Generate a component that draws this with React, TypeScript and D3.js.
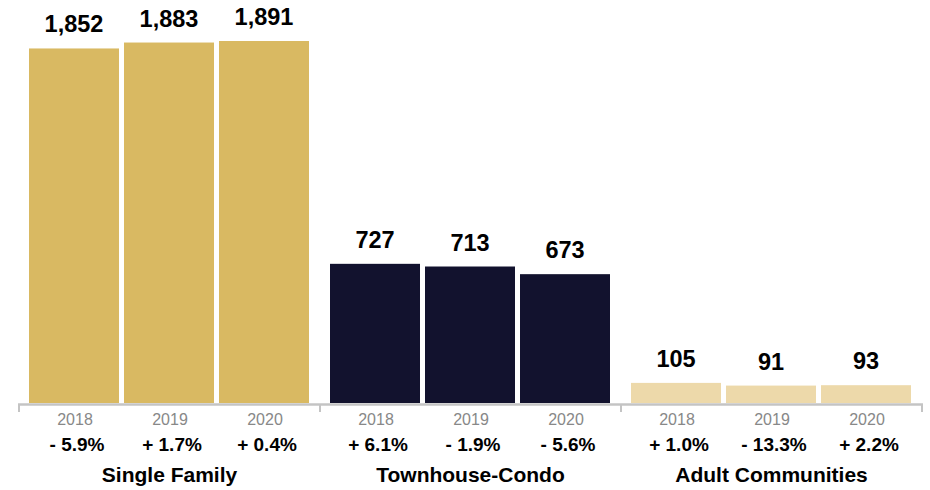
import React from "react";
import * as d3 from "d3";

const groups = ["Single Family", "Townhouse-Condo", "Adult Communities"];
const years = ["2018", "2019", "2020"];
const singleFamily = [1852, 1883, 1891];
const townhouseCondo = [727, 713, 673];
const adultCommunities = [105, 91, 93];
const singleFamilyChange = ["- 5.9%", "+ 1.7%", "+ 0.4%"];
const townhouseCondoChange = ["+ 6.1%", "- 1.9%", "- 5.6%"];
const adultCommunitiesChange = ["+ 1.0%", "- 13.3%", "+ 2.2%"];
const groupColors = ["#D9B962", "#12122E", "#EDD9AA"];

const W = 930;
const H = 490;
const baseline = 403;
const FONT = "'Liberation Sans', Arial, Helvetica, sans-serif";

export default function App() {
  const values = [singleFamily, townhouseCondo, adultCommunities];
  const changes = [singleFamilyChange, townhouseCondoChange, adultCommunitiesChange];
  const x0 = d3.scaleBand<string>().domain(groups).range([19, 922]).padding(0);
  const x1 = d3.scaleBand<string>().domain(years).range([10, 290]).paddingInner(5 / 95).paddingOuter(0);
  const y = d3.scaleLinear().domain([0, 1891]).range([baseline, 41]);
  const fmt = d3.format(",");
  const tickXs = [...groups.map((g) => x0(g)!), 922];

  return (
    <svg width={W} height={H} style={{ position: "absolute", left: 0, top: 0, fontFamily: FONT }}>
      {groups.map((g, gi) => (
        <g key={g} transform={`translate(${x0(g)},0)`}>
          {years.map((yr, i) => {
            const v = values[gi][i];
            const bx = x1(yr)!;
            const cx = bx + x1.bandwidth() / 2;
            return (
              <g key={yr}>
                <rect x={bx} y={y(v)} width={x1.bandwidth()} height={baseline - y(v)} fill={groupColors[gi]} />
                <text x={cx} y={y(v) - 16} textAnchor="middle" fontSize={23.5} fontWeight="bold" fill="#000">
                  {fmt(v)}
                </text>
                <text x={cx + 1} y={425} textAnchor="middle" fontSize={16} fill="#888">
                  {yr}
                </text>
                <text x={cx + 3} y={451} textAnchor="middle" fontSize={19} fontWeight="bold" fill="#000">
                  {changes[gi][i]}
                </text>
              </g>
            );
          })}
          <text x={x0.bandwidth() / 2} y={482} textAnchor="middle" fontSize={21} fontWeight="bold" fill="#000">
            {g}
          </text>
        </g>
      ))}
      <line x1={18} x2={923} y1={404.5} y2={404.5} stroke="#c4c4c4" strokeWidth={2.5} />
      {tickXs.map((tx, i) => (
        <line key={i} x1={tx} x2={tx} y1={404} y2={412} stroke="#c4c4c4" strokeWidth={2} />
      ))}
    </svg>
  );
}
